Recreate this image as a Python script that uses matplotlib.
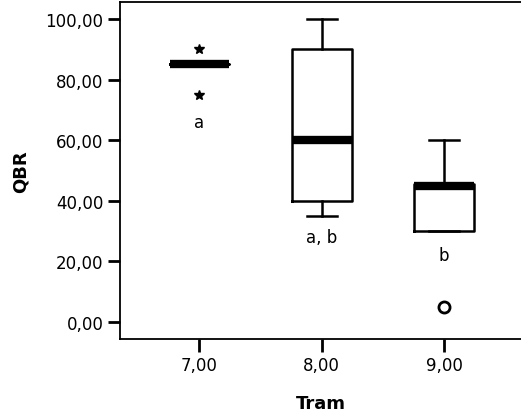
import matplotlib.pyplot as plt

# QBR by Tram
trams = [7, 8, 9]
tick_labels = ["7,00", "8,00", "9,00"]
q1 = [85, 40, 30]
medians = [85, 60, 45]
q3 = [85, 90, 45.5]
whisker_low = [85, 35, 30]
whisker_high = [85, 100, 60]
outliers = [[], [], [5]]
extremes = [[90, 75], [], []]
group_letters = ["a", "a, b", "b"]
letter_y = [66, 28, 22]

plt.rcParams['font.family'] = ['DejaVu Sans']

fig = plt.figure(figsize=(5.21, 4.14), dpi=100)
ax = fig.add_axes([120 / 521, 74 / 414, 401 / 521, 337 / 414])

stats = []
for i in range(len(trams)):
    stats.append({
        "med": medians[i], "q1": q1[i], "q3": q3[i],
        "whislo": whisker_low[i], "whishi": whisker_high[i],
        "fliers": outliers[i],
    })

ax.bxp(stats, positions=trams, widths=0.49, capwidths=0.245,
       boxprops=dict(color="black", linewidth=1.8),
       whiskerprops=dict(color="black", linewidth=1.8),
       capprops=dict(color="black", linewidth=1.8),
       medianprops=dict(color="black", linewidth=6, solid_capstyle="butt"),
       flierprops=dict(marker="o", markersize=8, markerfacecolor="white",
                       markeredgecolor="black", markeredgewidth=2))

# extreme values drawn as stars
for x, vals in zip(trams, extremes):
    for v in vals:
        ax.plot(x, v, marker="*", color="black", markersize=7.5, linestyle="none")

for x, txt, y in zip(trams, group_letters, letter_y):
    ax.text(x, y, txt, ha="center", va="center", fontsize=12)

ax.set_xlim(6.35, 9.63)
ax.set_ylim(-5.6, 105.6)
ax.set_xticks(trams)
ax.set_xticklabels(tick_labels)
ax.set_yticks([0, 20, 40, 60, 80, 100])
ax.set_yticklabels(["0,00", "20,00", "40,00", "60,00", "80,00", "100,00"])
ax.tick_params(axis="both", length=9, width=2, labelsize=12, pad=3)

ax.spines["right"].set_visible(False)
for s in ["left", "bottom", "top"]:
    ax.spines[s].set_linewidth(1.3)

ax.set_xlabel("Tram", fontsize=13, fontweight="bold", labelpad=15)
ax.set_ylabel("QBR", fontsize=13, fontweight="bold", labelpad=11)

fig.savefig("out.png", dpi=100)
